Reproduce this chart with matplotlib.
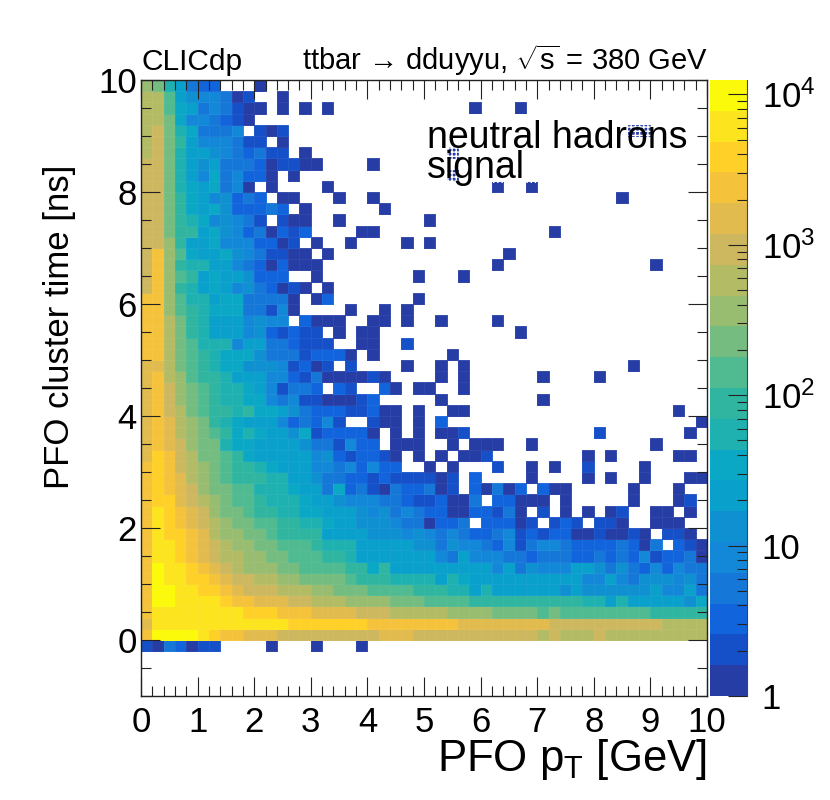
import numpy as np
import matplotlib
matplotlib.use("Agg")
import matplotlib.pyplot as plt
from matplotlib.colors import ListedColormap, BoundaryNorm
from matplotlib.patches import Rectangle
from matplotlib.ticker import MultipleLocator, FixedLocator, NullFormatter

plt.rcParams['font.family'] = ['Liberation Sans', 'DejaVu Sans']
plt.rcParams['mathtext.fontset'] = 'custom'
plt.rcParams['mathtext.rm'] = 'Liberation Sans'
plt.rcParams['mathtext.it'] = 'Liberation Sans'
plt.rcParams['mathtext.bf'] = 'Liberation Sans'
plt.rcParams['hatch.linewidth'] = 1.0

# palette: one colour per contour band, bottom to top
band_colors = ['#263DA5', '#1650C8', '#1264DC', '#1578D8', '#1488D8', '#0F90D0', '#0AA0CC',
               '#0AA8C4', '#1FB0B0', '#30B5A0', '#50BA90', '#75BC80', '#98BC70', '#B4BB65',
               '#CDB85F', '#E2BB4E', '#F5C23C', '#FFD028', '#FCE41E', '#FAFA0A']
n_bands = 20
log_max = 4.096
level_chars = '123456789ABCDEFGHIJK'

# band read from each cell: rows from the 10 ns row down to the -0.2..0 row, 50 pT bins
level_rows = [
 "DC97433... 1.........",
 "EEB7655412 ..1.......",
 "EEB8745421 1.1.1.1... .........1 ...1......",
 "EEC8554321",
 "EFC984445. 212....... .......... .......... ...11.....",
 "EFCA755542 2.1.......",
 "EFC9776543 422.1..... .......1..",
 "FFC9767444 312211.... 1.........",
 "FFC9758453 31.1...... .......1..",
 "FFC9878451 .1....1... .......... .1..1.....",
 "FFCA875634 3.11...1.. 1......... .......... ..1.......",
 "FFCA878633 343.1..... .1........",
 "FFCA985654 2.211..1.. .....1....",
 "FFCAA78653 41323....1 1......... ......1...",
 "FFDA778555 3312.1..1. ...1.1....",
 "FHDB877865 42211.1... .......... ..1.......",
 "FHDA997754 313111.... .......... .1........ .....1....",
 "FHDBA78776 333..1.... ....1...1.",
 "FHDA978756 43121.1...",
 "HHDB997884 4441.13... ....1.....",
 "HHDBA98884 4251....1. .1.1......",
 "HHECA97775 655.3111.. 11.1..1... .1........",
 "HHECA97775 632322.1.1 1......... ...1......",
 "HHECB99957 7443222..1 1..2......",
 "HHECBA9888 644423331. 1......1..",
 "GGECBA9886 6652312.2. ...1..1.1. .......... ...1......",
 "GHEDBAA977 7553241111 21....1.1. .....1.... 1.........",
 "GHFDCBA998 752443.32. .31.11..1.",
 "GHFDCBA998 8545221112 3.....1... .....1....",
 "GHFECBAA9A 8876433322 311.1..11. .......... .......1..",
 "GHGEDCA987 77534352.. 211.1.3... .......... .........1",
 "GHGEDCBA89 8776823333 1.1.1.112. .......... 2.......1.",
 "GHGFDCC988 7777644253 3.111..1.1 11..1..... .....1....",
 "GIHFECCBA8 7777756323 321.1.1.11 2........1 .1.....11.",
 "HIHFEDCBAA 9877755453 533..1.1.. .2..1.1..2 ....1.....",
 "HIHGEDCBAA A997764433 23222212.3 ....1....1 .1..1...11",
 "HIHGFDCCBB 9998774834 21433412.3 1413.311.. ...1...1..",
 "HIIGFEDCBB A999877655 5443223114 .33111.1.. ...1...12.",
 "HJIHGFDCCB AA99887776 5645433113 3241.2.1.1 .12..11.1.",
 "HJIHGFEDCC BBAA998776 665441334. 33312.232. 221..111..",
 "HJIIHGEDDC CBAAAA7777 6665654543 3452323311 21121.221.",
 "HJJIHGFEDD CCBBBA9997 7777664655 4352455433 334314.321",
 "HJJIHGFEED DCCBBBAA97 7777775475 5544344433 4343523341",
 "HKJJIHGFED DDCCBBBBAA 8A77777777 7574655577 6464353544",
 "HKJJIIHGFF EEDDCCCCBA AA99997987 7777777775 5754666564",
 "HKKJJIIHGF FFEEEDDCCC BBBBAAA997 9777777676 6666675574",
 "HKKJJJJIHH GGGFFEEEDD DDCCCBBBBA AAAAAAAAA9 9797777768",
 "HJJJJJJJJI IIHHHGGGGF FFEEEEEDDD DCCCCBCBBB BBBBBAAAAA",
 "GJJJJJJJJJ JJJIIIIIII HHHHHHHHGG GGGGGGFFFF FFFFFFEEEE",
 "HKKKKJIHHG GGFFFFFFFF FGGGFFFFFF FFFFFEFEEE FEEEEEEEEE",
 "2143122... .1...1...1",
]

x_ticks_major = [0, 1, 2, 3, 4, 5, 6, 7, 8, 9, 10]
y_ticks_major = [0, 2, 4, 6, 8, 10]
cbar_ticks = [1, 10, 100, 1000, 10000]
cbar_labels = ['1', '10', r'$\mathregular{10^{2}}$', r'$\mathregular{10^{3}}$', r'$\mathregular{10^{4}}$']
x_label = r'PFO p$\mathregular{_{T}}$ [GeV]'
y_label = 'PFO cluster time [ns]'
legend_lines = ['neutral hadrons', 'signal']

step = log_max / n_bands
grid = np.full((len(level_rows), 50), np.nan)
for r, row in enumerate(level_rows):
    chars = row.replace(' ', '').ljust(50, '.')[:50]
    for c, ch in enumerate(chars):
        if ch != '.':
            grid[r, c] = 10 ** ((level_chars.index(ch) + 0.5) * step)
grid = np.ma.masked_invalid(grid[::-1])

bounds = 10 ** (np.arange(n_bands + 1) * step)
cmap = ListedColormap(band_colors)
norm = BoundaryNorm(bounds, n_bands)

W, H = 830, 800
fig = plt.figure(figsize=(W / 100, H / 100), dpi=100)
ax = fig.add_axes([141 / W, 1 - 696 / H, 566 / W, 616 / H])
x_edges = np.linspace(0, 10, 51)
y_edges = np.linspace(-0.2, 10, 52)
ax.pcolormesh(x_edges, y_edges, grid, cmap=cmap, norm=norm,
              edgecolors=(1, 1, 1, 0.05), linewidth=0.5, zorder=1)
ax.set_xlim(0, 10)
ax.set_ylim(-1, 10)

ax.xaxis.set_major_locator(FixedLocator(x_ticks_major))
ax.xaxis.set_minor_locator(MultipleLocator(0.2))
ax.yaxis.set_major_locator(FixedLocator(y_ticks_major))
ax.yaxis.set_minor_locator(MultipleLocator(0.5))
ax.tick_params(which='both', direction='in', top=True, right=True, width=0.8, color='#222222')
ax.tick_params(which='major', length=13.7, labelsize=25)
ax.tick_params(which='minor', length=6.9)
ax.tick_params(axis='x', which='major', pad=7)
ax.tick_params(axis='y', which='major', pad=3)
for s in ax.spines.values():
    s.set_linewidth(1.0)
    s.set_color('#222222')

# dotted legend box over the cells
ax.add_patch(Rectangle((5.05, 8.16), 4.65, 1.23, facecolor='none', edgecolor='white',
                       hatch='++++', linewidth=0, zorder=2))

fig.text(427 / W, 1 - 148 / H, legend_lines[0], fontsize=27, ha='left', va='baseline', zorder=5)
fig.text(427 / W, 1 - 178 / H, legend_lines[1], fontsize=27, ha='left', va='baseline', zorder=5)
fig.text(141 / W, 1 - 70 / H, 'CLICdp', fontsize=21.5, ha='left', va='baseline')
fig.text(708 / W, 1 - 70 / H, 'ttbar \u2192 dduyyu, $\\sqrt{\\mathrm{s}}$ = 380 GeV',
         fontsize=21, ha='right', va='baseline')
fig.text(707 / W, 1 - 771 / H, x_label, fontsize=31.5, ha='right', va='baseline')
fig.text(76 / W, 1 - 327 / H, y_label, fontsize=25, rotation=90, ha='right', va='center')

cax = fig.add_axes([710 / W, 1 - 696 / H, 37 / W, 616 / H])
cax.pcolormesh([0, 1], bounds, (np.sqrt(bounds[:-1] * bounds[1:]))[:, None], cmap=cmap, norm=norm)
cax.set_yscale('log')
cax.set_ylim(bounds[0], bounds[-1])
cax.set_xticks([])
cax.yaxis.tick_right()
cax.set_yticks(cbar_ticks, cbar_labels)
cax.yaxis.set_minor_formatter(NullFormatter())
cax.tick_params(axis='y', which='both', direction='in', width=0.8, color='#222222', left=False)
cax.tick_params(axis='y', which='major', length=13.7, labelsize=25, pad=10.5)
cax.tick_params(axis='y', which='minor', length=6.9)
for lab in cax.get_yticklabels():
    lab.set_verticalalignment('center_baseline')
for name, s in cax.spines.items():
    s.set_visible(name == 'right')
    s.set_linewidth(0.8)
    s.set_color('#444444')

fig.savefig('out.png', dpi=100)
